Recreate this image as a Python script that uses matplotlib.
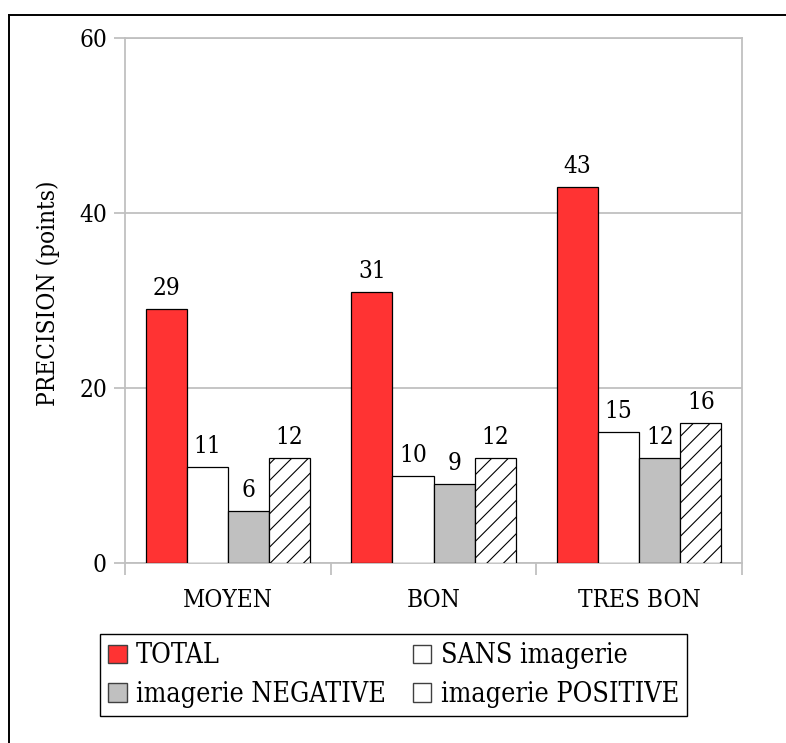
import matplotlib
matplotlib.use("Agg")
import matplotlib.pyplot as plt
from matplotlib import font_manager as fm
from matplotlib.patches import Patch
from matplotlib.lines import Line2D
import numpy as np

categories = ["MOYEN", "BON", "TRES BON"]
series_names = ["TOTAL", "SANS imagerie", "imagerie NEGATIVE", "imagerie POSITIVE"]
total = [29, 31, 43]
sans_imagerie = [11, 10, 15]
imagerie_negative = [6, 9, 12]
imagerie_positive = [12, 12, 16]
y_ticks = [0, 20, 40, 60]
y_label = "PRECISION (points)"

# font choice: condensed DejaVu Serif if present, else Liberation Serif
cond = any(f.name == "DejaVu Serif" and f.stretch in ("condensed", "semi-condensed")
           and f.style == "normal" and f.weight in (400, "normal")
           for f in fm.fontManager.ttflist)
if cond:
    plt.rcParams["font.family"] = ["DejaVu Serif"]
    plt.rcParams["font.stretch"] = "condensed"
    fs_axis, fs_leg = 17.5, 19.3
else:
    plt.rcParams["font.family"] = ["Liberation Serif", "DejaVu Serif"]
    fs_axis, fs_leg = 18, 20

W, H = 786, 743
fig = plt.figure(figsize=(W / 100, H / 100), dpi=100)
ax = fig.add_axes([125 / W, 1 - 563 / H, (742 - 125) / W, (563 - 38) / H])

grid_c = "#c0c0c0"
colors = ["#ff3333", "#ffffff", "#c0c0c0", "#ffffff"]
hatches = [None, None, None, "//"]
data = [total, sans_imagerie, imagerie_negative, imagerie_positive]
x = np.arange(len(categories))
bw = 0.2

plt.rcParams["hatch.linewidth"] = 0.8
for j, (vals, col, hat) in enumerate(zip(data, colors, hatches)):
    pos = x + (j - 1.5) * bw
    bars = ax.bar(pos, vals, width=bw, color=col, edgecolor="black",
                  linewidth=0.9, hatch=hat, zorder=3)
    for b, v in zip(bars, vals):
        ax.annotate(f"{v}", xy=(b.get_x() + b.get_width() / 2, v),
                    xytext=(0, 10), textcoords="offset points",
                    ha="center", va="baseline", fontsize=fs_axis, zorder=4)

ax.set_xlim(-0.5, 2.5)
ax.set_ylim(0, 60)
ax.set_yticks(y_ticks)
ax.yaxis.grid(True, color=grid_c, linewidth=1.3, zorder=0)
ax.set_axisbelow(True)
for s in ax.spines.values():
    s.set_color(grid_c)
    s.set_linewidth(1.3)

ax.tick_params(axis="y", length=8, width=1.3, color=grid_c, pad=5,
               labelsize=fs_axis)
ax.set_xticks(x)
ax.set_xticklabels(categories)
ax.tick_params(axis="x", which="major", length=0, pad=19, labelsize=fs_axis)
ax.set_xticks(np.arange(-0.5, 3.0, 1.0), minor=True)
ax.tick_params(axis="x", which="minor", length=8.6, width=1.3, color=grid_c)

ylab = ax.set_ylabel(y_label, fontsize=fs_axis, va="center", ha="center")
ax.yaxis.set_label_coords((48 - 125) / (742 - 125), (563 - 293) / (563 - 38))

handles = [
    Patch(facecolor=colors[0], edgecolor="#404040", linewidth=1.0, label=series_names[0]),
    Patch(facecolor=colors[2], edgecolor="#404040", linewidth=1.0, label=series_names[2]),
    Patch(facecolor=colors[1], edgecolor="#404040", linewidth=1.0, label=series_names[1]),
    Patch(facecolor=colors[3], edgecolor="#404040", linewidth=1.0, label=series_names[3]),
]
leg = fig.legend(handles=handles, ncol=2, loc="center",
                 bbox_to_anchor=(100 / W, 1 - 719 / H, 587 / W, 88 / H),
                 mode="expand", fontsize=fs_leg, frameon=True, fancybox=False,
                 edgecolor="black", framealpha=1, borderpad=0.3,
                 labelspacing=0.42, handlelength=0.7, handleheight=0.7,
                 handletextpad=0.35, borderaxespad=0, columnspacing=1.0)
leg.get_frame().set_linewidth(1.0)

# outer frame (only top and left edges visible)
fig.add_artist(Line2D([9 / W, 9 / W], [0, 1 - 15 / H], color="black",
                      linewidth=1.4, transform=fig.transFigure))
fig.add_artist(Line2D([9 / W, 1], [1 - 15 / H, 1 - 15 / H], color="black",
                      linewidth=1.4, transform=fig.transFigure))

fig.savefig("out.png", dpi=100)
